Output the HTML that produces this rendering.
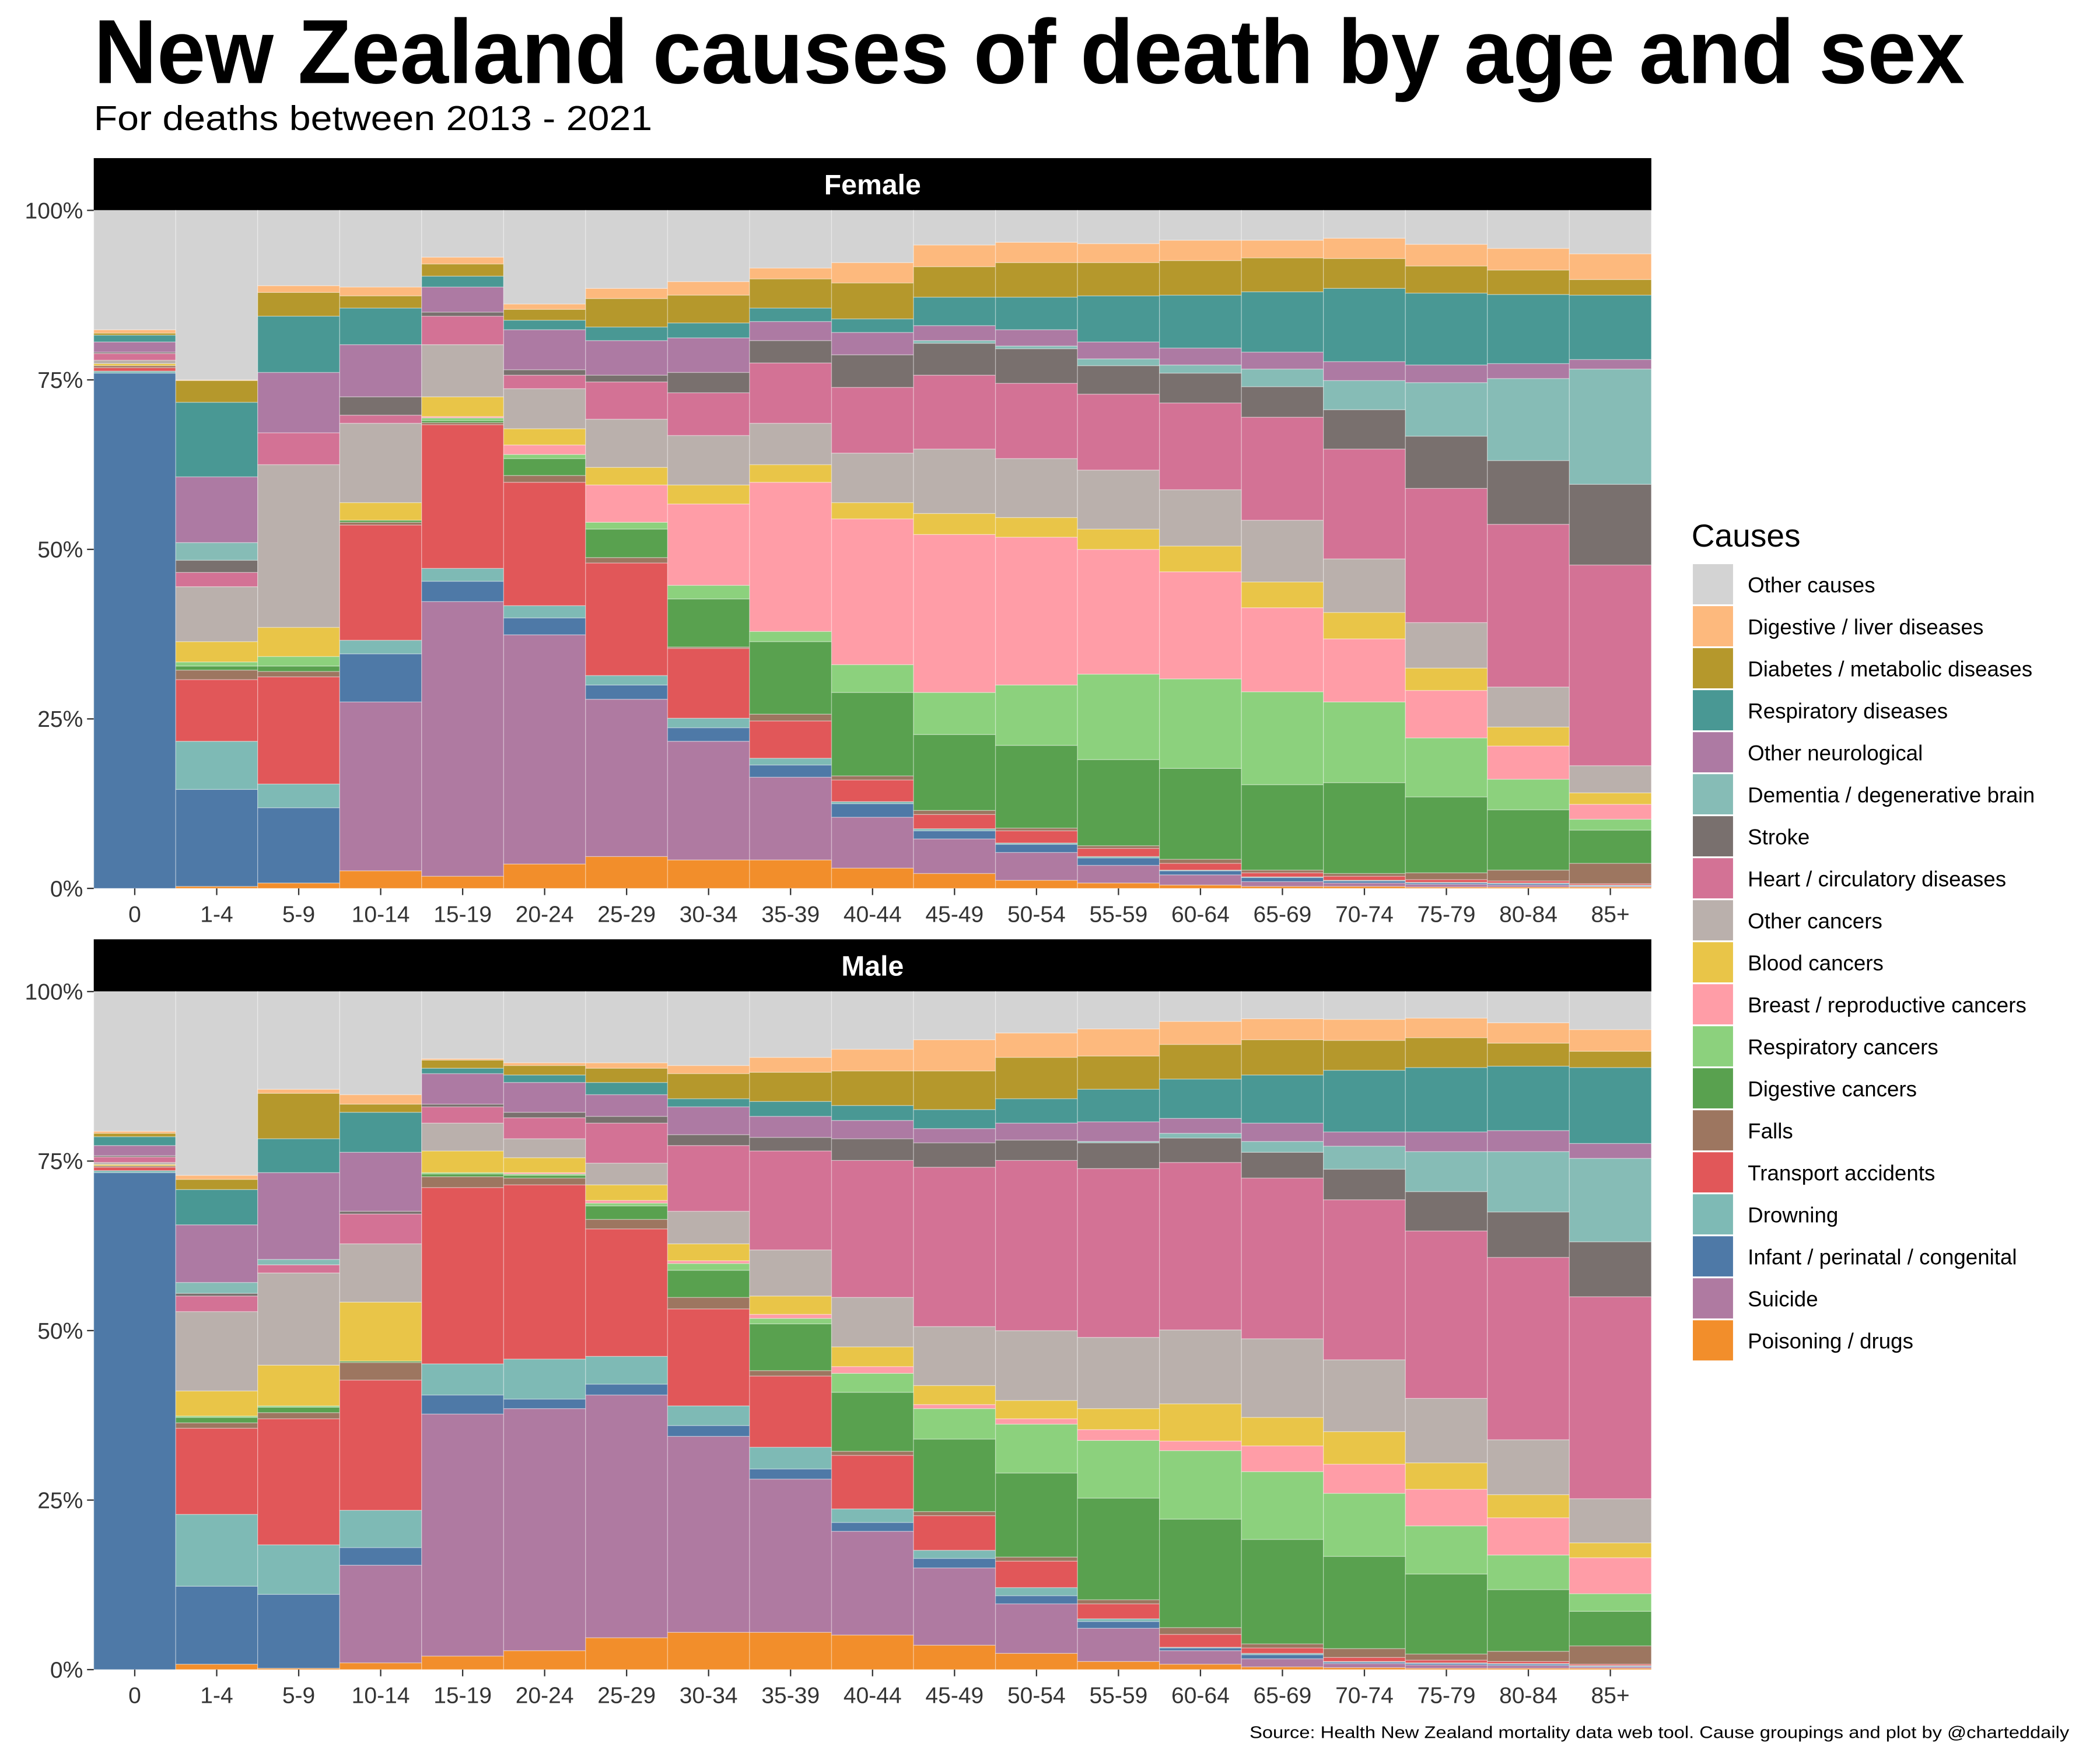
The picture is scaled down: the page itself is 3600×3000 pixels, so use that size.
<!DOCTYPE html>
<html>
<head>
<meta charset="utf-8">
<style>
html,body{margin:0;padding:0;background:#fff;}
svg{display:block;font-family:"Liberation Sans",Arial,sans-serif;}
</style>
</head>
<body>
<svg id="chart" width="3600" height="3000" viewBox="0 0 1568 1306" preserveAspectRatio="none" xmlns="http://www.w3.org/2000/svg">
<rect x="0" y="0" width="1568" height="1306" fill="#ffffff"/>
<text x="70" y="62" font-size="68" font-weight="bold" fill="#000" textLength="1397" lengthAdjust="spacingAndGlyphs">New Zealand causes of death by age and sex</text>
<text x="70" y="97" font-size="26" fill="#000" textLength="417" lengthAdjust="spacingAndGlyphs">For deaths between 2013 - 2021</text>
<g id="panels"></g>
<g id="legend"></g>
<text x="1545" y="1297" font-size="12.5" fill="#000" text-anchor="end" textLength="612" lengthAdjust="spacingAndGlyphs">Source: Health New Zealand mortality data web tool. Cause groupings and plot by @charteddaily</text>
</svg>
<script>
const ages = ["0","1-4","5-9","10-14","15-19","20-24","25-29","30-34","35-39","40-44","45-49","50-54","55-59","60-64","65-69","70-74","75-79","80-84","85+"];
const causeNames = ["Poisoning / drugs","Suicide","Infant / perinatal / congenital","Drowning","Transport accidents","Falls","Digestive cancers","Respiratory cancers","Breast / reproductive cancers","Blood cancers","Other cancers","Heart / circulatory diseases","Stroke","Dementia / degenerative brain","Other neurological","Respiratory diseases","Diabetes / metabolic diseases","Digestive / liver diseases","Other causes"];
const causeColors = ["#f28e2b","#af7aa1","#4e79a7","#7ebab5","#e15759","#9d7660","#59a14f","#8cd17d","#ff9da7","#e9c548","#bab0ac","#d37295","#79706e","#86bcb6","#ad7aa3","#499894","#b5982c","#fdb97d","#d3d3d3"];
const yTicks = [0,25,50,75,100];
const yTickLabels = ["0%","25%","50%","75%","100%"];

// Female shares (%)
const f_poison = [0,0.3,0.8,2.6,1.8,3.6,4.7,4.2,4.2,3,2.2,1.2,0.8,0.5,0.3,0.3,0.2,0.2,0.2];
const f_suicide = [0,0,0,24.9,40.5,33.8,23.2,17.5,12.2,7.5,5.1,4.1,2.6,1.5,0.7,0.5,0.4,0.3,0.1];
const f_infant = [76,14.3,11.1,7.1,3,2.5,2.1,2,1.8,2,1.2,1.2,1.1,0.6,0.6,0.3,0.2,0.2,0.1];
const f_drowning = [0.3,7.1,3.5,2,1.9,1.8,1.4,1.4,1,0.3,0.3,0.2,0.2,0.1,0.1,0.1,0.1,0.1,0.1];
const f_transport = [0.5,9.1,15.8,17,21.2,18.2,16.6,10.3,5.5,3.2,2.1,1.8,1.2,1,0.6,0.6,0.4,0.3,0.2];
const f_falls = [0.3,1.4,0.8,0.4,0.3,1,0.8,0.2,1,0.6,0.6,0.4,0.4,0.6,0.4,0.4,1,1.6,3];
const f_digcanc = [0,0.6,0.8,0.3,0.3,2.5,4.2,7.1,10.7,12.3,11.2,12.2,12.7,13.4,12.6,13.4,11.2,8.9,4.9];
const f_respcanc = [0,0.6,1.4,0,0.4,0.6,1,2,1.5,4.1,6.2,8.9,12.6,13.2,13.7,11.9,8.7,4.5,1.6];
const f_breast = [0,0,0,0,0.2,1.4,5.5,12,22,21.5,23.3,21.8,18.4,15.8,12.4,9.3,7,4.9,2.2];
const f_blood = [0.3,3,4.3,2.6,2.9,2.4,2.6,2.8,2.6,2.4,3.1,2.9,3,3.8,3.8,3.9,3.3,2.8,1.7];
const f_othercanc = [0.5,8.1,24,11.7,7.7,5.9,7.1,7.3,6.1,7.3,9.5,8.7,8.7,8.3,9.1,7.9,6.7,5.9,4];
const f_heart = [1,2.1,4.7,1.2,4.2,2,5.5,6.3,8.9,9.7,10.9,11.1,11.2,12.8,15.2,16.2,19.8,24,29.6];
const f_stroke = [0.2,1.8,0,2.7,0.6,0.8,1,3,3.3,4.8,4.7,5.1,4.2,4.4,4.5,5.8,7.7,9.4,11.9];
const f_dementia = [0,2.6,0,0,0,0,0,0,0,0,0.4,0.4,1,1.2,2.6,4.3,7.9,12.1,17];
const f_otherneuro = [1.5,9.7,8.9,7.7,3.7,5.9,5.1,5.1,2.8,3.3,2.2,2.4,2.5,2.5,2.5,2.8,2.6,2.2,1.4];
const f_respdis = [1,11,8.3,5.4,1.6,1.4,2,2.2,2,2,4.2,4.8,6.8,7.8,8.9,10.8,10.6,10.2,9.5];
const f_diabetes = [0.3,3.2,3.5,1.8,1.8,1.6,4.2,4.1,4.3,5.3,4.5,5.1,4.9,5.1,5,4.4,4,3.6,2.3];
const f_digestive = [0.5,0.1,1,1.3,1,0.8,1.5,2,1.6,3,3.2,3,2.8,3,2.6,3,3.2,3.2,3.8];

// Male shares (%)
const m_poison = [0,0.8,0.2,1,2,2.8,4.7,5.5,5.5,5.1,3.6,2.4,1.2,0.8,0.4,0.3,0.2,0.2,0.2];
const m_suicide = [0,0,0,14.4,35.7,35.7,35.8,28.9,22.6,15.3,11.4,7.3,4.9,2,1.2,0.6,0.5,0.4,0.2];
const m_infant = [73.3,11.5,10.9,2.6,2.8,1.4,1.6,1.6,1.5,1.3,1.4,1.2,1,0.4,0.6,0.2,0.2,0.2,0.1];
const m_drowning = [0.3,10.6,7.3,5.5,4.6,5.9,4.1,2.9,3.2,2,1.2,1.2,0.4,0.1,0.2,0.1,0.1,0.1,0.1];
const m_transport = [0.5,12.7,18.6,19.2,26,25.7,18.8,14.3,10.5,7.9,5.1,3.9,2.2,1.9,0.8,0.6,0.4,0.3,0.2];
const m_falls = [0.2,0.8,0.9,2.6,1.6,1,1.4,1.7,0.8,0.6,0.6,0.6,0.6,1,0.6,1.3,0.9,1.5,2.7];
const m_digcanc = [0,0.8,0.8,0.2,0.4,0.4,2,4,6.9,8.7,10.7,12.4,15,16,15.4,13.6,11.8,9.1,5.1];
const m_respcanc = [0,0.2,0.2,0,0.2,0.2,0.4,1,0.8,2.8,4.5,7.2,8.5,10.1,10,9.3,7.1,5.1,2.6];
const m_breast = [0,0,0,0,0,0.2,0.4,0.4,0.6,1,0.6,0.8,1.6,1.4,3.8,4.3,5.4,5.5,5.3];
const m_blood = [0.2,3.7,6,8.7,3.2,2.2,2.3,2.5,2.7,2.9,2.8,2.7,3.1,5.5,4.2,4.8,3.9,3.4,2.2];
const m_othercanc = [0.3,11.7,13.6,8.6,4.1,2.8,3.2,4.8,6.8,7.3,8.7,10.3,10.5,10.9,11.6,10.6,9.5,8.1,6.5];
const m_heart = [0.8,2.3,1.2,4.4,2.4,3.1,5.9,9.7,14.6,20.2,23.5,25.1,24.9,24.7,23.7,23.6,24.7,26.9,29.8];
const m_stroke = [0.2,0.4,0,0.4,0.4,0.8,1,1.6,2,3.2,3.6,3,3.8,3.6,3.8,4.5,5.8,6.7,8.1];
const m_dementia = [0,1.6,0.8,0,0,0,0,0,0,0,0,0,0.2,0.7,1.6,3.4,5.9,8.9,12.3];
const m_otherneuro = [1.5,8.5,12.8,8.7,4.5,4.4,3.2,4.1,3.1,2.7,2.1,2.5,2.9,2.2,2.7,2.1,2.9,3.1,2.2];
const m_respdis = [1.3,5.2,5,5.9,0.8,1.1,1.8,1.2,2.2,2.2,2.8,3.6,4.8,5.8,7.1,9.1,9.5,9.5,11.2];
const m_diabetes = [0.5,1.5,6.7,1.2,1.2,1.4,2.1,3.7,4.3,5.1,5.7,6.1,4.9,5.1,5.2,4.4,4.4,3.4,2.4];
const m_digestive = [0.3,0.6,0.6,1.4,0.2,0.4,0.8,1.2,2.2,3.2,4.6,3.6,4,3.4,3.1,3.1,2.9,3,3.2];

const femaleSeries = [f_poison,f_suicide,f_infant,f_drowning,f_transport,f_falls,f_digcanc,f_respcanc,f_breast,f_blood,f_othercanc,f_heart,f_stroke,f_dementia,f_otherneuro,f_respdis,f_diabetes,f_digestive];
const maleSeries = [m_poison,m_suicide,m_infant,m_drowning,m_transport,m_falls,m_digcanc,m_respcanc,m_breast,m_blood,m_othercanc,m_heart,m_stroke,m_dementia,m_otherneuro,m_respdis,m_diabetes,m_digestive];

const NS = "http://www.w3.org/2000/svg";
const PL = 70, PR = 1233, PH = 506;
const bw = (PR - PL) / ages.length;
function xScale(i){ return PL + i * bw; }
function mk(tag, attrs, parent){
  const e = document.createElementNS(NS, tag);
  for (const k in attrs) e.setAttribute(k, attrs[k]);
  parent.appendChild(e);
  return e;
}
function slug(s){ return s.toLowerCase().replace(/[^a-z0-9]+/g,'-').replace(/^-|-$/g,''); }

const panelsG = document.getElementById('panels');
function drawPanel(label, stripTop, series){
  const top = stripTop + 39;
  const yScale = v => top + (100 - v) / 100 * PH;
  const g = mk('g', {}, panelsG);
  
  
  const strip = mk('rect', {x:PL, y:stripTop, width:PR-PL, height:39, fill:'#000'}, g);
  
  
  const st = mk('text', {x:(PL+PR)/2, y:stripTop+27, 'font-size':21, 'font-weight':'bold', fill:'#fff', 'text-anchor':'middle'}, g);
  st.textContent = label;
  
  
  // bars
  ages.forEach((a, i) => {
    let cum = 0;
    const segs = series.map(s => s[i]);
    const total = segs.reduce((p, c) => p + c, 0);
    segs.push(Math.max(0, 100 - total));
    segs.forEach((v, k) => {
      if (v <= 0) return;
      const y0 = yScale(cum), y1 = yScale(cum + v);
      const r = mk('rect', {x:xScale(i), y:y1, width:bw, height:y0-y1, fill:causeColors[k], stroke:'rgba(255,255,255,0.35)', 'stroke-width':0.6}, g);
      
      
      cum += v;
    });
  });
  // y axis
  yTicks.forEach((t, j) => {
    const y = yScale(t);
    const tl = mk('line', {x1:65, x2:70, y1:y, y2:y, stroke:'#333', 'stroke-width':1}, g);
    
    
    const tx = mk('text', {x:62, y:y+6, 'font-size':17, fill:'#333', 'text-anchor':'end'}, g);
    tx.textContent = yTickLabels[j];
    
    
  });
  // x axis
  ages.forEach((a, i) => {
    const cx = xScale(i) + bw / 2;
    const tl = mk('line', {x1:cx, x2:cx, y1:top+PH, y2:top+PH+5, stroke:'#333', 'stroke-width':1}, g);
    
    
    const tx = mk('text', {x:cx, y:top+PH+25, 'font-size':17, fill:'#333', 'text-anchor':'middle'}, g);
    tx.textContent = a;
    
    
  });
}
drawPanel('Female', 118, femaleSeries);
drawPanel('Male', 701, maleSeries);

// legend
const lg = document.getElementById('legend');
const lt = mk('text', {x:1263, y:408, 'font-size':24, fill:'#000'}, lg);
lt.textContent = 'Causes';


for (let n = 0; n < causeNames.length; n++){
  const k = causeNames.length - 1 - n;
  const y = 421 + n * 31.35;
  const eg = mk('g', {}, lg);
  
  
  const kr = mk('rect', {x:1264, y:y, width:30, height:30, fill:causeColors[k]}, eg);
  
  
  const kt = mk('text', {x:1305, y:y+21, 'font-size':16, fill:'#000'}, eg);
  kt.textContent = causeNames[k];
  
  
}
</script>
</body>
</html>
